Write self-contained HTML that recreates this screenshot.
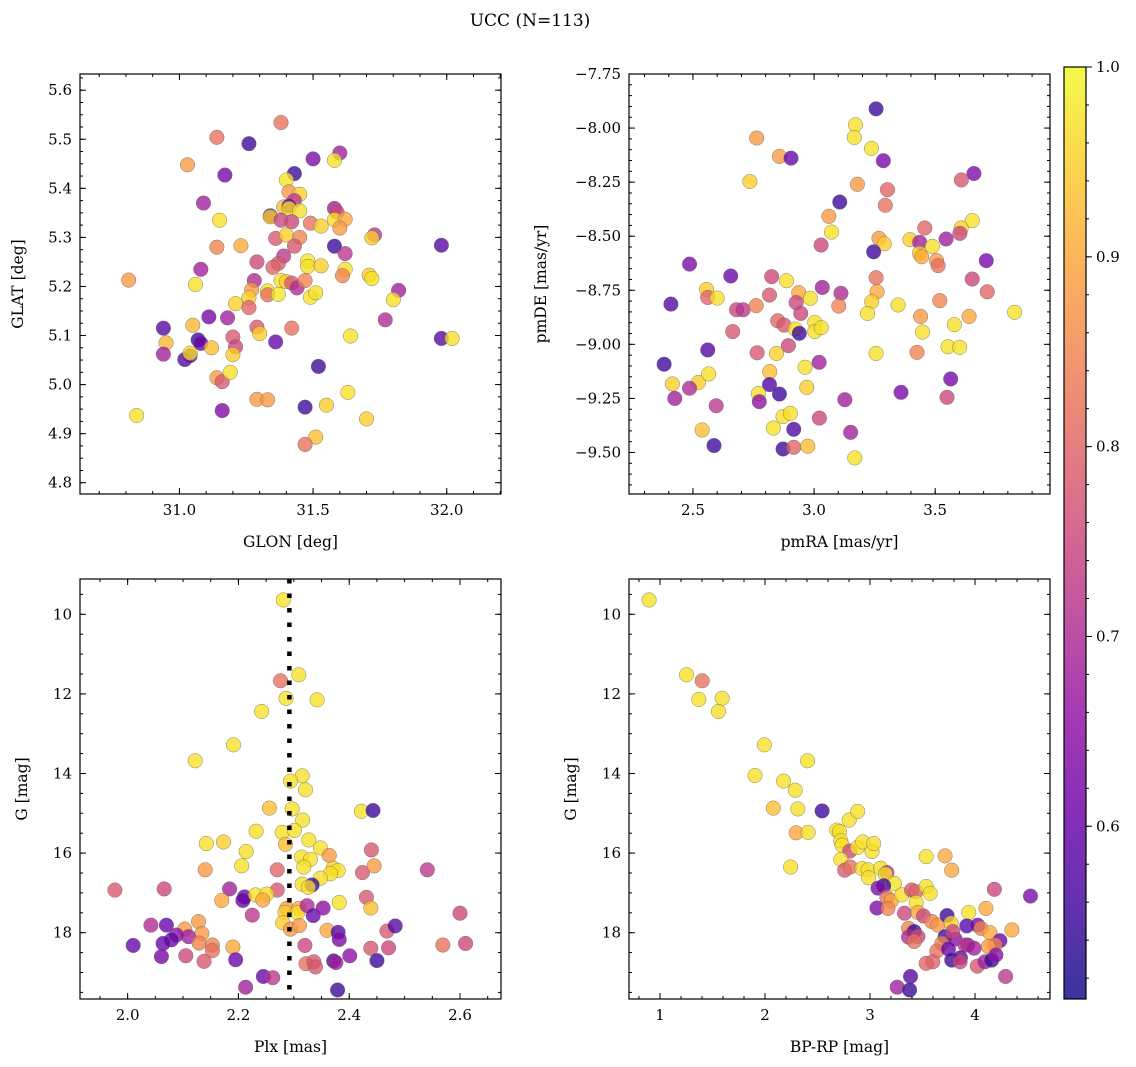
<!DOCTYPE html>
<html>
<head>
<meta charset="utf-8">
<style>
  html,body{margin:0;padding:0;background:#fff;}
  svg{display:block;font-family:"DejaVu Serif","Liberation Serif",serif;}
  svg text{font-family:"DejaVu Serif","Liberation Serif",serif;}
</style>
</head>
<body>
<svg id="fig" width="1136" height="1067" viewBox="0 0 1136 1067" xmlns="http://www.w3.org/2000/svg">
  <defs>
    <linearGradient id="plasmaGrad" x1="0" y1="1" x2="0" y2="0"></linearGradient>
  </defs>
  <text x="530" y="26" font-size="17" font-family="DejaVu Serif, Liberation Serif, serif" text-anchor="middle">UCC (N=113)</text>
</svg>
<script>
// ---------------- data ----------------
const glon = [31.38,31.14,31.26,31.03,31.50,31.60,31.58,31.17,31.43,31.40,31.41,31.45,31.43,31.09,31.39,31.41,31.41,31.45,31.34,31.34,31.15,31.38,31.42,31.49,31.53,31.58,31.59,31.58,31.62,31.60,31.36,31.40,31.45,31.73,31.72,31.14,31.23,31.43,31.58,31.98,31.62,31.39,31.29,31.37,31.35,31.48,31.48,31.53,31.62,31.61,31.08,30.81,31.06,31.28,31.38,31.40,31.42,31.44,31.47,31.71,31.72,31.82,31.80,31.27,31.26,31.33,31.33,31.37,31.49,31.51,31.21,31.26,31.11,31.18,30.94,31.05,31.29,31.30,31.42,31.77,30.95,31.07,31.08,31.20,31.21,31.12,31.36,31.64,31.98,32.02,30.94,31.02,31.04,31.04,31.20,31.52,31.14,31.16,31.19,31.29,31.33,31.16,31.47,31.55,31.63,31.70,30.84,31.51,31.47];
const glat = [5.534,5.504,5.491,5.448,5.460,5.472,5.457,5.427,5.430,5.417,5.393,5.388,5.375,5.370,5.362,5.364,5.359,5.354,5.344,5.342,5.335,5.335,5.332,5.329,5.323,5.359,5.351,5.336,5.337,5.319,5.298,5.305,5.300,5.305,5.299,5.280,5.283,5.282,5.282,5.284,5.267,5.262,5.250,5.247,5.239,5.252,5.241,5.242,5.235,5.222,5.235,5.213,5.204,5.212,5.212,5.210,5.207,5.197,5.212,5.223,5.216,5.192,5.173,5.193,5.177,5.191,5.183,5.184,5.178,5.187,5.165,5.157,5.138,5.136,5.115,5.121,5.117,5.104,5.115,5.132,5.085,5.091,5.084,5.097,5.077,5.075,5.087,5.099,5.094,5.094,5.062,5.051,5.059,5.064,5.061,5.037,5.014,5.006,5.025,4.970,4.969,4.947,4.954,4.958,4.984,4.930,4.937,4.893,4.878];
const prob1 = [.82,.82,.55,.88,.63,.68,.97,.62,.55,.98,.88,.95,.72,.68,.93,.6,.97,.97,.55,.95,.97,.75,.75,.82,.95,.68,.75,.97,.9,.88,.78,.95,.85,.72,.95,.85,.9,.78,.55,.58,.72,.72,.75,.78,.8,.98,.97,.95,.97,.85,.68,.88,.97,.7,.97,.95,.78,.7,.85,.95,.97,.68,.97,.88,.95,.97,.82,.98,.97,.97,.95,.8,.62,.68,.58,.92,.78,.95,.82,.7,.92,.55,.6,.78,.75,.93,.6,.97,.58,.97,.68,.58,.6,.97,.95,.55,.88,.78,.97,.88,.88,.63,.55,.95,.97,.95,.97,.93,.82];

const pmra = [3.256,3.171,3.166,2.763,3.237,2.857,2.905,3.286,3.660,3.608,2.735,3.179,3.303,3.106,3.294,3.061,3.072,3.653,3.607,3.602,3.457,3.268,3.290,3.396,3.436,3.488,3.545,3.029,3.246,3.435,3.444,3.506,3.512,3.711,2.486,2.656,2.825,2.886,3.034,3.111,3.256,3.653,3.715,2.556,2.561,2.600,2.409,2.680,2.707,2.761,2.816,2.937,2.985,2.926,2.945,3.102,3.260,3.238,3.221,3.347,3.519,3.440,3.640,3.828,2.664,2.850,2.876,2.922,2.939,3.003,3.003,3.030,3.448,3.579,2.561,2.381,2.765,2.845,2.894,3.021,2.963,3.256,3.425,3.553,3.601,2.415,2.523,2.565,2.486,2.425,2.596,2.817,2.816,2.857,2.770,2.774,2.970,3.127,3.359,3.564,3.549,2.538,2.587,2.832,2.872,2.902,2.916,2.872,2.916,2.974,3.022,3.151,3.168];
const pmde = [-7.911,-7.985,-8.043,-8.046,-8.094,-8.131,-8.139,-8.151,-8.210,-8.240,-8.247,-8.260,-8.285,-8.342,-8.357,-8.408,-8.481,-8.428,-8.462,-8.487,-8.462,-8.510,-8.535,-8.516,-8.528,-8.547,-8.513,-8.541,-8.572,-8.579,-8.595,-8.613,-8.636,-8.613,-8.629,-8.684,-8.687,-8.706,-8.737,-8.764,-8.692,-8.698,-8.757,-8.746,-8.783,-8.786,-8.814,-8.840,-8.840,-8.821,-8.772,-8.761,-8.787,-8.807,-8.857,-8.823,-8.757,-8.803,-8.857,-8.818,-8.798,-8.871,-8.871,-8.852,-8.941,-8.891,-8.911,-8.929,-8.949,-8.898,-8.941,-8.923,-8.943,-8.909,-9.026,-9.092,-9.039,-9.042,-9.006,-9.083,-9.106,-9.042,-9.037,-9.011,-9.014,-9.183,-9.176,-9.137,-9.203,-9.250,-9.284,-9.126,-9.186,-9.230,-9.227,-9.265,-9.199,-9.256,-9.222,-9.160,-9.245,-9.396,-9.468,-9.387,-9.334,-9.319,-9.393,-9.484,-9.476,-9.471,-9.341,-9.407,-9.525];
const prob2 = [.55,.97,.97,.88,.97,.88,.6,.62,.63,.78,.95,.88,.8,.55,.82,.88,.97,.97,.95,.75,.8,.88,.95,.95,.68,.97,.68,.75,.55,.95,.9,.88,.82,.62,.63,.6,.75,.97,.68,.7,.82,.75,.8,.95,.8,.97,.58,.75,.72,.85,.78,.9,.97,.75,.75,.85,.9,.95,.97,.97,.85,.88,.9,.97,.78,.8,.78,.97,.55,.97,.97,.97,.97,.97,.58,.55,.78,.95,.75,.68,.97,.97,.85,.97,.97,.95,.95,.97,.7,.68,.72,.93,.57,.55,.97,.65,.95,.68,.62,.62,.75,.93,.55,.97,.97,.97,.57,.55,.8,.93,.75,.68,.97];

const plx = [2.281,2.309,2.276,2.286,2.342,2.242,2.191,2.122,2.315,2.294,2.321,2.256,2.297,2.316,2.422,2.443,2.232,2.279,2.301,2.285,2.327,2.142,2.173,2.214,2.348,2.364,2.314,2.330,2.440,2.140,2.206,2.270,2.318,2.371,2.380,2.366,2.348,2.424,2.445,2.541,1.977,2.066,2.184,2.270,2.211,2.208,2.231,2.251,2.244,2.170,2.315,2.333,2.326,2.382,2.431,2.439,2.287,2.284,2.309,2.307,2.324,2.335,2.353,2.225,2.600,2.042,2.070,2.103,2.128,2.134,2.110,2.088,2.079,2.064,2.010,2.129,2.153,2.153,2.190,2.061,2.105,2.138,2.195,2.280,2.294,2.310,2.360,2.380,2.382,2.320,2.322,2.336,2.339,2.372,2.376,2.401,2.439,2.450,2.471,2.468,2.483,2.569,2.610,2.245,2.262,2.213,2.379];
const gmag3 = [9.64,11.52,11.67,12.11,12.15,12.44,13.28,13.68,14.06,14.19,14.41,14.87,14.89,15.17,14.95,14.93,15.45,15.48,15.43,15.78,15.67,15.76,15.72,15.96,15.87,16.06,16.10,16.16,15.92,16.42,16.32,16.42,16.35,16.38,16.44,16.52,16.63,16.49,16.32,16.42,16.93,16.90,16.90,16.93,17.10,17.19,17.05,17.03,17.18,17.19,16.78,16.80,16.86,17.24,17.11,17.38,17.39,17.49,17.39,17.50,17.32,17.57,17.38,17.56,17.51,17.81,17.81,17.91,17.72,18.02,18.10,18.06,18.18,18.27,18.32,18.26,18.31,18.45,18.36,18.60,18.58,18.72,18.68,17.75,17.91,17.82,17.94,17.99,18.17,18.32,18.78,18.73,18.86,18.71,18.75,18.58,18.39,18.70,18.38,17.96,17.83,18.31,18.27,19.10,19.13,19.37,19.44];
const prob3 = [.97,.97,.82,.97,.97,.97,.97,.97,.97,.97,.97,.93,.97,.97,.97,.55,.97,.97,.97,.93,.97,.97,.95,.97,.97,.88,.97,.97,.78,.88,.97,.8,.97,.95,.97,.97,.97,.78,.88,.72,.78,.75,.68,.78,.6,.6,.97,.97,.9,.9,.97,.55,.97,.97,.78,.93,.88,.95,.9,.97,.7,.6,.65,.72,.75,.7,.6,.88,.88,.88,.68,.65,.6,.6,.6,.85,.85,.82,.9,.62,.75,.78,.6,.95,.88,.88,.9,.58,.63,.75,.82,.78,.78,.55,.68,.65,.78,.55,.75,.78,.58,.82,.75,.6,.72,.68,.55];
const plxMedian = 2.292;

const bprp = [0.896,1.253,1.402,1.370,1.592,1.557,1.994,2.405,1.905,2.177,2.288,2.079,2.313,2.544,2.801,2.883,2.297,2.411,2.244,2.684,2.709,2.722,2.734,2.807,2.880,2.930,3.019,3.035,2.722,2.759,2.813,2.924,2.981,2.987,3.101,3.161,3.146,3.231,3.535,3.715,3.778,3.130,3.076,3.161,3.203,3.304,3.396,3.437,3.535,3.573,3.440,3.066,3.171,3.329,3.456,3.509,3.589,3.646,3.734,3.772,3.940,4.104,4.184,4.528,4.351,3.367,3.421,3.367,3.456,3.421,3.715,3.810,3.788,3.921,4.025,4.057,4.142,4.237,4.190,4.127,3.930,3.905,3.991,3.684,3.636,3.747,3.778,3.861,3.858,4.022,4.095,4.158,4.199,3.598,3.535,4.291,3.386,3.259,3.377];
const gmag4 = [9.64,11.52,11.67,12.14,12.11,12.44,13.28,13.68,14.05,14.19,14.42,14.87,14.89,14.94,15.17,14.95,15.49,15.48,16.35,15.42,15.46,15.69,15.80,15.95,15.86,15.72,15.96,15.76,16.16,16.43,16.35,16.39,16.42,16.62,16.38,16.49,16.53,16.76,16.09,16.07,16.43,16.82,16.88,17.11,17.20,17.05,16.93,16.97,16.84,17.01,17.24,17.38,17.39,17.51,17.49,17.58,17.72,17.81,17.57,17.76,17.49,17.39,16.91,17.08,17.93,17.89,17.97,18.11,18.10,18.22,18.10,18.16,17.97,17.83,17.81,17.89,18.00,18.20,18.31,18.35,18.31,18.31,18.39,18.27,18.46,18.41,18.69,18.63,18.73,18.84,18.73,18.69,18.56,18.73,18.77,19.10,19.10,19.37,19.44];
const prob4 = [.97,.97,.82,.97,.97,.97,.97,.97,.97,.97,.97,.93,.97,.55,.97,.97,.9,.97,.97,.97,.97,.97,.97,.75,.97,.97,.97,.97,.97,.78,.82,.97,.97,.97,.97,.72,.97,.97,.97,.9,.9,.55,.63,.82,.9,.97,.78,.8,.97,.97,.97,.63,.85,.75,.9,.75,.85,.88,.55,.95,.97,.9,.75,.63,.9,.85,.55,.7,.75,.82,.55,.65,.75,.58,.62,.85,.9,.6,.85,.88,.65,.72,.68,.85,.82,.6,.55,.58,.75,.78,.68,.55,.65,.8,.8,.72,.58,.68,.55];

// tick labels
const glonTicks = [31.0, 31.5, 32.0];
const glonLabels = ["31.0","31.5","32.0"];
const glatTicks = [4.8,4.9,5.0,5.1,5.2,5.3,5.4,5.5,5.6];
const glatLabels = ["4.8","4.9","5.0","5.1","5.2","5.3","5.4","5.5","5.6"];
const pmraTicks = [2.5,3.0,3.5];
const pmraLabels = ["2.5","3.0","3.5"];
const pmdeTicks = [-7.75,-8.0,-8.25,-8.5,-8.75,-9.0,-9.25,-9.5];
const pmdeLabels = ["\u22127.75","\u22128.00","\u22128.25","\u22128.50","\u22128.75","\u22129.00","\u22129.25","\u22129.50"];
const plxTicks = [2.0,2.2,2.4,2.6];
const plxLabels = ["2.0","2.2","2.4","2.6"];
const bprpTicks = [1,2,3,4];
const bprpLabels = ["1","2","3","4"];
const gTicks = [10,12,14,16,18];
const gLabels = ["10","12","14","16","18"];
const cbTicks = [0.6,0.7,0.8,0.9,1.0];
const cbLabels = ["0.6","0.7","0.8","0.9","1.0"];
const vmin = 0.509, vmax = 1.0;

// ---------------- helpers ----------------
const NS = "http://www.w3.org/2000/svg";
const FONT = "DejaVu Serif, Liberation Serif, serif";
const svg = document.getElementById("fig");
function mk(tag, attrs, parent){
  const e = document.createElementNS(NS, tag);
  for (const k in attrs) e.setAttribute(k, attrs[k]);
  if (tag === "text") e.setAttribute("font-family", FONT);
  (parent||svg).appendChild(e);
  return e;
}
const plasmaStops = ["#0d0887","#41049d","#6a00a8","#8f0da4","#b12a90","#cc4778","#e16462","#f2844b","#fca636","#fcce25","#f0f921"];
function hex2rgb(h){return [parseInt(h.slice(1,3),16),parseInt(h.slice(3,5),16),parseInt(h.slice(5,7),16)];}
function plasma(t){
  t = Math.max(0, Math.min(1, t));
  const f = t*10, i = Math.min(9, Math.floor(f)), u = f - i;
  const a = hex2rgb(plasmaStops[i]), b = hex2rgb(plasmaStops[i+1]);
  return "rgb(" + a.map((v,k)=>Math.round(v+(b[k]-v)*u)).join(",") + ")";
}
function colorOf(p){ return plasma((p - vmin)/(vmax - vmin)); }

const grad = document.getElementById("plasmaGrad");
plasmaStops.forEach((c,i)=>{ const s=document.createElementNS(NS,"stop"); s.setAttribute("offset",(i*10)+"%"); s.setAttribute("stop-color",c); grad.appendChild(s); });

function panel(cfg){
  const {name, L, T, R, B, xd, yd, xs, ys} = cfg;
  const sx = v => L + (v - xd[0])/(xd[1]-xd[0])*(R-L);
  const sy = v => T + (v - yd[0])/(yd[1]-yd[0])*(B-T);
  const g = mk("g", {});
  
  
  const cid = name + "-clip";
  const cp = mk("clipPath", {id: cid}, g);
  mk("rect", {x:L, y:T, width:R-L, height:B-T}, cp);
  const pts = mk("g", {"clip-path":"url(#"+cid+")"}, g);
  
  
  const n = Math.min(xs.length, ys.length, cfg.ps.length);
  for (let i=0;i<n;i++){
    const c = mk("circle", {cx: sx(xs[i]).toFixed(2), cy: sy(ys[i]).toFixed(2), r: 7.3, fill: colorOf(cfg.ps[i]), "fill-opacity": 0.78, stroke: "#666", "stroke-width": 0.5, "stroke-opacity": 0.8}, pts);
    
    
  }
  if (cfg.vline !== undefined){
    const vx = sx(cfg.vline);
    const ln = mk("line", {x1: vx, x2: vx, y1: T, y2: B, stroke: "#000", "stroke-width": 4.5, "stroke-dasharray": "4.5,10"}, g);
    
    
  }
  const fr = mk("rect", {x:L, y:T, width:R-L, height:B-T, fill:"none", stroke:"#000", "stroke-width":1.2}, g);
  
  
  const tk = mk("g", {stroke:"#000", "stroke-width":1}, g);
  const eps = 1e-9;
  const xlo = Math.min(xd[0],xd[1]), xhi = Math.max(xd[0],xd[1]);
  for (let v = Math.ceil(xlo/cfg.xminor - eps)*cfg.xminor; v <= xhi+eps; v += cfg.xminor){
    const x = sx(v);
    mk("line",{x1:x,x2:x,y1:B,y2:B-3},tk); mk("line",{x1:x,x2:x,y1:T,y2:T+3},tk);
  }
  const ylo = Math.min(yd[0],yd[1]), yhi = Math.max(yd[0],yd[1]);
  for (let v = Math.ceil(ylo/cfg.yminor - eps)*cfg.yminor; v <= yhi+eps; v += cfg.yminor){
    const y = sy(v);
    mk("line",{x1:L,x2:L+3,y1:y,y2:y},tk); mk("line",{x1:R,x2:R-3,y1:y,y2:y},tk);
  }
  cfg.xt.forEach((v,i)=>{
    const x = sx(v);
    mk("line",{x1:x,x2:x,y1:B,y2:B-6},tk); mk("line",{x1:x,x2:x,y1:T,y2:T+6},tk);
    const t = mk("text",{x:x, y:B+21, "font-size":15, "text-anchor":"middle"}, g);
    t.textContent = cfg.xl[i];
    
    
  });
  cfg.yt.forEach((v,i)=>{
    const y = sy(v);
    mk("line",{x1:L,x2:L+6,y1:y,y2:y},tk); mk("line",{x1:R,x2:R-6,y1:y,y2:y},tk);
    const t = mk("text",{x:L-8, y:y+5, "font-size":15, "text-anchor":"end"}, g);
    t.textContent = cfg.yl[i];
    
    
  });
  const xt = mk("text",{x:(L+R)/2, y:B+53, "font-size":15.5, "text-anchor":"middle"}, g);
  xt.textContent = cfg.xlabel;
  
  
  const yx = cfg.ylabelX, yy = (T+B)/2;
  const yt = mk("text",{x:yx, y:yy, "font-size":15.5, "text-anchor":"middle", transform:"rotate(-90 "+yx+" "+yy+")"}, g);
  yt.textContent = cfg.ylabel;
  
  
}

panel({name:"glon-glat", L:80, T:74, R:501, B:494, xd:[30.628,32.203], yd:[5.633,4.777], xs:glon, ys:glat, ps:prob1,
  xt:glonTicks, xl:glonLabels, yt:glatTicks, yl:glatLabels, xminor:0.1, yminor:0.025, xlabel:"GLON [deg]", ylabel:"GLAT [deg]", ylabelX:23});
panel({name:"pm", L:629, T:74, R:1050, B:494, xd:[2.236,3.974], yd:[-7.750,-9.692], xs:pmra, ys:pmde, ps:prob2,
  xt:pmraTicks, xl:pmraLabels, yt:pmdeTicks, yl:pmdeLabels, xminor:0.1, yminor:0.05, xlabel:"pmRA [mas/yr]", ylabel:"pmDE [mas/yr]", ylabelX:546});
panel({name:"plx-g", L:80, T:579, R:501, B:999, xd:[1.914,2.674], yd:[9.113,19.666], xs:plx, ys:gmag3, ps:prob3,
  xt:plxTicks, xl:plxLabels, yt:gTicks, yl:gLabels, xminor:0.05, yminor:0.5, xlabel:"Plx [mas]", ylabel:"G [mag]", ylabelX:27, vline:plxMedian});
panel({name:"cmd", L:629, T:579, R:1050, B:999, xd:[0.705,4.714], yd:[9.113,19.666], xs:bprp, ys:gmag4, ps:prob4,
  xt:bprpTicks, xl:bprpLabels, yt:gTicks, yl:gLabels, xminor:0.2, yminor:0.5, xlabel:"BP-RP [mag]", ylabel:"G [mag]", ylabelX:576});

// ---------------- colorbar ----------------
(function(){
  const L=1064, R=1086, T=67, B=999;
  const cb = mk("g",{});
  
  
  const sy = v => B - (v - vmin)/(vmax - vmin)*(B-T);
  mk("rect",{x:L,y:T,width:R-L,height:B-T,fill:"url(#plasmaGrad)","fill-opacity":0.82},cb);
  mk("rect",{x:L,y:T,width:R-L,height:B-T,fill:"none",stroke:"#000","stroke-width":1.2},cb);
  const tk = mk("g",{stroke:"#000","stroke-width":1},cb);
  for (let v = 0.52; v <= 1.0001; v += 0.02){
    const y = sy(v); mk("line",{x1:R,x2:R+3,y1:y,y2:y},tk);
  }
  cbTicks.forEach((v,i)=>{
    const y = sy(v);
    mk("line",{x1:R,x2:R+6,y1:y,y2:y},tk);
    const t = mk("text",{x:R+10,y:y+5,"font-size":15},cb);
    t.textContent = cbLabels[i];
    
    
  });
})();
</script>
</body>
</html>
